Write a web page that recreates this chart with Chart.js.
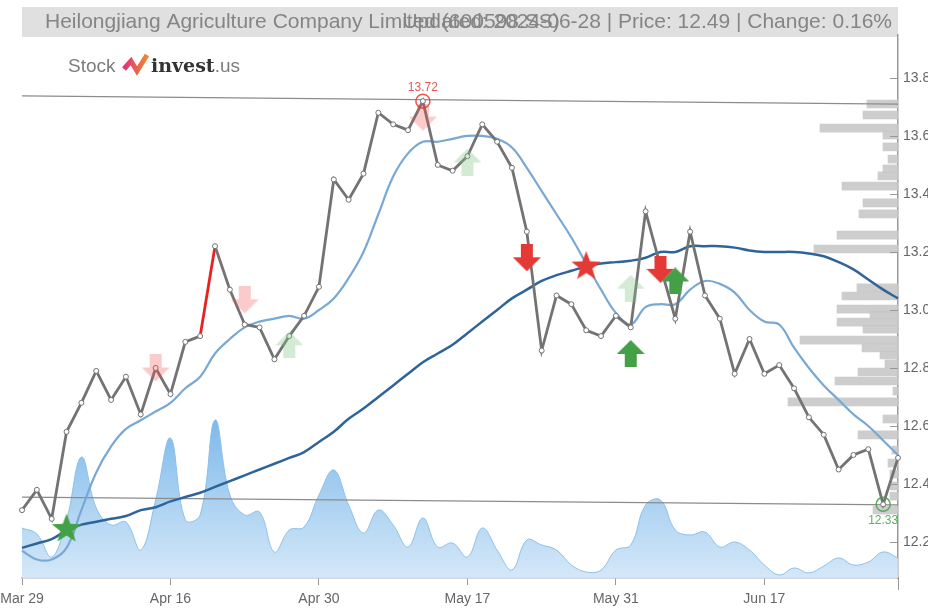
<!DOCTYPE html>
<html>
<head>
<meta charset="utf-8">
<script src="https://cdn.jsdelivr.net/npm/chart.js@4.4.1/dist/chart.umd.min.js"></script>
<style>
  html, body { margin: 0; padding: 0; background: #fff; }
  #wrap { width: 928px; height: 608px; }
</style>
</head>
<body>
<div id="wrap"><canvas id="chart"></canvas></div>
<script>
// trading days shown on the chart
const dates = ['Mar 29', 'Apr 1', 'Apr 2', 'Apr 3', 'Apr 8', 'Apr 9', 'Apr 10', 'Apr 11', 'Apr 12', 'Apr 15',
  'Apr 16', 'Apr 17', 'Apr 18', 'Apr 19', 'Apr 22', 'Apr 23', 'Apr 24', 'Apr 25', 'Apr 26', 'Apr 29',
  'Apr 30', 'May 6', 'May 7', 'May 8', 'May 9', 'May 10', 'May 13', 'May 14', 'May 15', 'May 16',
  'May 17', 'May 20', 'May 21', 'May 22', 'May 23', 'May 24', 'May 27', 'May 28', 'May 29', 'May 30',
  'May 31', 'Jun 3', 'Jun 4', 'Jun 5', 'Jun 6', 'Jun 7', 'Jun 11', 'Jun 12', 'Jun 13', 'Jun 14',
  'Jun 17', 'Jun 18', 'Jun 19', 'Jun 20', 'Jun 21', 'Jun 24', 'Jun 25', 'Jun 26', 'Jun 27', 'Jun 28'];
const tickLabels = ['Mar 29', 'Apr 16', 'Apr 30', 'May 17', 'May 31', 'Jun 17'];

const closePrice = [12.31, 12.38, 12.28, 12.58, 12.68, 12.79, 12.69, 12.77, 12.64, 12.80,
  12.71, 12.89, 12.91, 13.22, 13.07, 12.95, 12.94, 12.83, 12.91, 12.98,
  13.08, 13.45, 13.38, 13.47, 13.68, 13.64, 13.62, 13.72, 13.50, 13.48,
  13.53, 13.64, 13.58, 13.49, 13.27, 12.86, 13.05, 13.02, 12.93, 12.91,
  12.98, 12.94, 13.34, 13.15, 12.97, 13.27, 13.05, 12.97, 12.78, 12.90,
  12.78, 12.81, 12.73, 12.63, 12.57, 12.45, 12.50, 12.52, 12.33, 12.49];

const maFast = [12.17, 12.14, 12.14, 12.18, 12.31, 12.44, 12.53, 12.59, 12.62, 12.65,
  12.68, 12.73, 12.77, 12.85, 12.90, 12.94, 12.96, 12.97, 12.98, 12.97,
  13.00, 13.04, 13.11, 13.20, 13.33, 13.46, 13.54, 13.58, 13.58, 13.59,
  13.60, 13.60, 13.59, 13.56, 13.49, 13.41, 13.33, 13.25, 13.16, 13.07,
  12.99, 12.95, 13.01, 13.02, 13.02, 13.07, 13.10, 13.09, 13.06, 13.00,
  12.96, 12.95, 12.87, 12.80, 12.74, 12.69, 12.64, 12.60, 12.55, 12.50];

const maSlow = [12.18, 12.195, 12.21, 12.24, 12.26, 12.27, 12.28, 12.29, 12.31, 12.32,
  12.34, 12.355, 12.37, 12.39, 12.41, 12.43, 12.45, 12.47, 12.49, 12.51,
  12.545, 12.58, 12.625, 12.66, 12.70, 12.74, 12.78, 12.82, 12.85, 12.88,
  12.92, 12.96, 13.00, 13.04, 13.07, 13.10, 13.12, 13.135, 13.15, 13.16,
  13.165, 13.17, 13.18, 13.20, 13.20, 13.22, 13.22, 13.22, 13.215, 13.205,
  13.20, 13.20, 13.20, 13.195, 13.185, 13.165, 13.14, 13.105, 13.07, 13.04];

// volume, millions of shares
const volume = [5.0, 4.4, 2.1, 5.8, 12.1, 7.0, 5.3, 5.6, 2.8, 7.8,
  14.0, 5.8, 6.3, 15.8, 8.3, 6.3, 6.6, 2.6, 4.8, 5.1,
  8.3, 10.8, 7.3, 4.5, 6.8, 5.3, 3.1, 6.0, 3.1, 3.5,
  2.1, 5.0, 2.8, 0.8, 3.8, 3.3, 2.8, 1.3, 0.6, 0.8,
  2.8, 3.3, 7.3, 7.8, 4.8, 4.3, 4.6, 3.1, 3.6, 2.8,
  1.3, 0.3, 1.0, 0.5, 1.2, 2.0, 1.3, 1.6, 2.6, 2.0];

// volume by price level
const profilePrice = [13.724, 13.686, 13.641, 13.617, 13.576, 13.534, 13.50, 13.476, 13.441, 13.383,
  13.345, 13.272, 13.224, 13.090, 13.062, 13.017, 12.997, 12.972, 12.948, 12.910,
  12.883, 12.859, 12.828, 12.800, 12.769, 12.734, 12.697, 12.638, 12.583, 12.531,
  12.486, 12.448, 12.407, 12.372, 12.324];
const profileVolume = [3.1, 3.5, 7.8, 1.5, 1.5, 1.0, 1.5, 2.0, 5.6, 3.5,
  3.9, 6.1, 8.4, 4.1, 5.6, 6.1, 2.8, 6.1, 3.5, 9.8,
  3.6, 1.8, 1.3, 4.0, 6.3, 0.5, 11.0, 1.5, 4.0, 0.6,
  1.0, 0.8, 0.8, 0.8, 2.5];

// trend lines: [start, end]
const resistance = [13.738, 13.710];
const support = [12.355, 12.328];

// signals: [day index, price]
const buyStrong = [[41, 12.85], [44, 13.10]];
const buyWeak = [[18, 12.88], [30, 13.51], [41, 13.075]];
const sellStrong = [[34, 13.18], [43, 13.14]];
const sellWeak = [[9, 12.80], [15, 13.035], [27, 13.665]];
const starBuy = [[3, 12.25]];
const starSell = [[38, 13.155]];
const highPoint = [27, 13.72];
const lowPoint = [58, 12.33];

const FONT = "'Liberation Sans', Arial, sans-serif";

function arrowImage(color, up) {
  const c = document.createElement('canvas');
  c.width = 28; c.height = 27;
  const g = c.getContext('2d');
  g.fillStyle = color;
  g.beginPath();
  if (up) {
    g.moveTo(14, 0); g.lineTo(28, 14); g.lineTo(20, 14); g.lineTo(20, 27);
    g.lineTo(8, 27); g.lineTo(8, 14); g.lineTo(0, 14);
  } else {
    g.moveTo(8, 0); g.lineTo(20, 0); g.lineTo(20, 13); g.lineTo(28, 13);
    g.lineTo(14, 27); g.lineTo(0, 13); g.lineTo(8, 13);
  }
  g.closePath();
  g.fill();
  return c;
}

function starImage(color) {
  const c = document.createElement('canvas');
  c.width = 32; c.height = 31;
  const g = c.getContext('2d');
  g.fillStyle = color;
  g.beginPath();
  for (let k = 0; k < 10; k++) {
    const r = k % 2 === 0 ? 15.5 : 6.5;
    const a = -Math.PI / 2 + k * Math.PI / 5;
    g.lineTo(16 + r * Math.cos(a), 17 + r * Math.sin(a));
  }
  g.closePath();
  g.fill();
  return c;
}

const pts = arr => arr.map(p => ({ x: dates[p[0]], y: p[1] }));

function markerSet(arr, img, order) {
  return {
    type: 'line', data: pts(arr), showLine: false, order: order,
    pointStyle: img, pointRadius: 12, pointHoverRadius: 12
  };
}

const decorations = {
  id: 'decorations',
  beforeDraw(chart) {
    const c = chart.ctx;
    c.save();
    c.fillStyle = '#fff';
    c.fillRect(0, 0, chart.width, chart.height);
    // title bar
    c.fillStyle = '#e0e0e0';
    c.fillRect(22, 7, 876, 30);
    c.fillStyle = '#858585';
    c.font = '21px ' + FONT;
    c.textBaseline = 'middle';
    c.textAlign = 'left';
    c.fillText('Heilongjiang Agriculture Company Limited (600598.SS)', 45, 22);
    c.textAlign = 'right';
    c.fillText('Updated: 2024-06-28 | Price: 12.49 | Change: 0.16%', 892, 22);
    // logo
    c.textAlign = 'left';
    c.textBaseline = 'alphabetic';
    c.font = '19px ' + FONT;
    c.fillStyle = '#7d7d7d';
    c.fillText('Stock', 68, 72);
    const gr = c.createLinearGradient(124, 0, 148, 0);
    gr.addColorStop(0, '#e5317a');
    gr.addColorStop(1, '#f08a2c');
    c.strokeStyle = gr;
    c.lineWidth = 5;
    c.lineJoin = 'miter';
    c.beginPath();
    c.moveTo(124, 69); c.lineTo(131, 61); c.lineTo(137, 71); c.lineTo(147, 55);
    c.stroke();
    c.font = "bold 19px 'DejaVu Serif', Georgia, serif";
    c.fillStyle = '#333';
    c.fillText('invest', 151, 72);
    const w = c.measureText('invest').width;
    c.font = '19px ' + FONT;
    c.fillStyle = '#7d7d7d';
    c.fillText('.us', 151 + w, 72);
    c.restore();
  },
  afterDraw(chart) {
    const c = chart.ctx;
    const y = chart.scales.y;
    const x = chart.scales.x;
    const area = chart.chartArea;
    c.save();
    c.strokeStyle = '#999';
    c.lineWidth = 1;
    y.ticks.forEach(t => {
      const py = Math.round(y.getPixelForValue(t.value)) + 0.5;
      c.beginPath();
      c.moveTo(area.right - 8, py);
      c.lineTo(area.right, py);
      c.stroke();
    });
    c.beginPath();
    c.moveTo(area.right + 0.5, area.bottom);
    c.lineTo(area.right + 0.5, area.bottom + 12);
    c.stroke();
    // high / low labels
    c.font = '12px ' + FONT;
    c.textAlign = 'center';
    c.fillStyle = 'rgba(229,57,53,0.85)';
    c.fillText(highPoint[1].toFixed(2), x.getPixelForValue(highPoint[0]), y.getPixelForValue(highPoint[1]) - 10);
    c.fillStyle = 'rgba(67,160,71,0.85)';
    c.textBaseline = 'top';
    c.fillText(lowPoint[1].toFixed(2), x.getPixelForValue(lowPoint[0]), y.getPixelForValue(lowPoint[1]) + 10);
    c.restore();
  }
};

const ctx = document.getElementById('chart').getContext('2d');
new Chart(ctx, {
  type: 'line',
  data: {
    labels: dates,
    datasets: [
      markerSet(starBuy, starImage('#43a047'), 1),
      markerSet(starSell, starImage('#e53935'), 1),
      markerSet(buyStrong, arrowImage('#43a047', true), 1),
      markerSet(sellStrong, arrowImage('#e53935', false), 1),
      markerSet(buyWeak, arrowImage('rgba(129,199,132,0.35)', true), 2),
      markerSet(sellWeak, arrowImage('rgba(239,83,80,0.3)', false), 2),
      {
        type: 'line', showLine: false, order: 0,
        data: pts([highPoint, lowPoint]),
        pointStyle: 'circle', pointRadius: 7, pointBorderWidth: 1.5,
        pointBackgroundColor: 'rgba(0,0,0,0)',
        pointBorderColor: ['rgba(229,57,53,0.85)', 'rgba(67,160,71,0.85)']
      },
      {
        label: 'Close', data: closePrice, order: 4,
        borderColor: '#737373', borderWidth: 2.8, tension: 0,
        pointRadius: 2.5, pointBackgroundColor: '#fff', pointBorderColor: '#737373', pointBorderWidth: 1,
        segment: { borderColor: s => s.p0DataIndex === 12 ? '#e8231f' : undefined }
      },
      {
        label: 'MA fast', data: maFast, order: 5,
        borderColor: '#79a8d4', borderWidth: 2.2, tension: 0.4, pointRadius: 0
      },
      {
        label: 'MA slow', data: maSlow, order: 6,
        borderColor: '#2f649b', borderWidth: 2.5, tension: 0.4, pointRadius: 0
      },
      {
        type: 'line', order: 7, data: [{ x: dates[0], y: resistance[0] }, { x: dates[dates.length - 1], y: resistance[1] }],
        borderColor: '#8c8c8c', borderWidth: 1.3, pointRadius: 0
      },
      {
        type: 'line', order: 7, data: [{ x: dates[0], y: support[0] }, { x: dates[dates.length - 1], y: support[1] }],
        borderColor: '#8c8c8c', borderWidth: 1.3, pointRadius: 0
      },
      {
        type: 'bar', indexAxis: 'y', order: 8,
        xAxisID: 'xProf', yAxisID: 'y',
        data: profilePrice.map((p, k) => ({ x: profileVolume[k], y: p })),
        backgroundColor: 'rgba(200,200,200,0.9)', barThickness: 8, borderWidth: 0
      },
      {
        label: 'Volume', data: volume, order: 9, yAxisID: 'yVol',
        borderColor: '#8cc0ea', borderWidth: 1, tension: 0.4, pointRadius: 0,
        fill: 'start',
        backgroundColor: c => {
          const a = c.chart.chartArea;
          if (!a) return 'rgba(140,195,235,0.7)';
          const g = c.chart.ctx.createLinearGradient(0, a.bottom - 165, 0, a.bottom);
          g.addColorStop(0, 'rgba(108,176,232,0.9)');
          g.addColorStop(1, 'rgba(208,229,247,0.9)');
          return g;
        }
      }
    ]
  },
  options: {
    responsive: true,
    maintainAspectRatio: false,
    animation: false,
    layout: { padding: { left: 22, right: 0, top: 35, bottom: 0 } },
    plugins: { legend: { display: false }, tooltip: { enabled: false } },
    events: [],
    scales: {
      x: {
        type: 'category', offset: false,
        grid: {
          drawOnChartArea: false, tickLength: 7, offset: false,
          color: c => (c.tick && tickLabels.includes(dates[c.index])) ? '#999' : 'rgba(0,0,0,0)'
        },
        border: { display: true, color: '#aab4c0', width: 1.5 },
        ticks: {
          autoSkip: false, maxRotation: 0, padding: 6, color: '#666',
          font: { family: FONT, size: 14 },
          callback: (v, i) => tickLabels.includes(dates[i]) ? dates[i] : ''
        },
        afterFit: s => { s.paddingLeft = 0; s.paddingRight = 0; s.height = 30; }
      },
      y: {
        position: 'right', min: 12.076, max: 13.948, offset: false,
        grid: { display: false, drawTicks: false, offset: false },
        border: { display: true, color: '#999', width: 1.5 },
        ticks: {
          stepSize: 0.2, includeBounds: false, padding: 5, color: '#666',
          font: { family: FONT, size: 14 },
          callback: v => v.toFixed(1)
        },
        afterFit: s => { s.width = 30; }
      },
      yVol: { display: false, min: 0, max: 54.3 },
      xProf: { type: 'linear', display: false, reverse: true, min: 0, max: 87.6 }
    }
  },
  plugins: [decorations]
});
</script>
</body>
</html>
